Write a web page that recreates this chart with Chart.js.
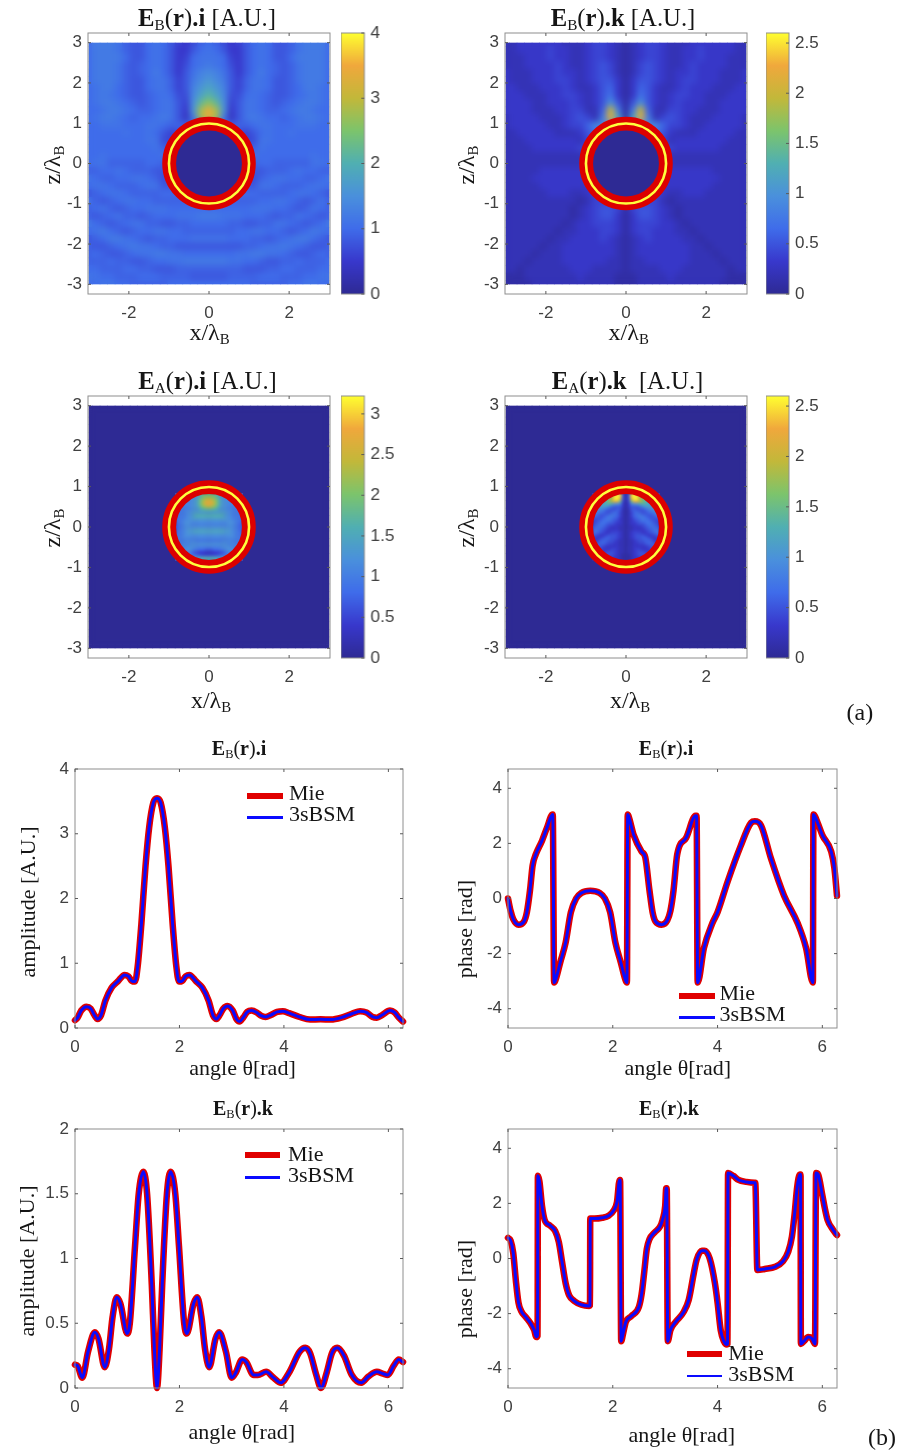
<!DOCTYPE html>
<html>
<head>
<meta charset="utf-8">
<title>Field maps and cuts</title>
<script src="https://cdn.jsdelivr.net/npm/chart.js@4"></script>
<style>
html, body { margin: 0; padding: 0; background: #fff; }
#fig { position: relative; width: 903px; height: 1454px; overflow: hidden; filter: blur(0.45px); }
#fig canvas { position: absolute; }
.txt { position: absolute; white-space: pre; font-family: "Liberation Serif", serif; color: #151515; line-height: 1; }
.txt sub { font-size: 0.62em; vertical-align: -0.28em; line-height: 0; }
.swatch { position: absolute; }
</style>
</head>
<body>
<div id="fig"></div>
<script>
// colour map, bottom to top of the colour bars
const parula = ['#2e2a94', '#3838cc', '#3f6cea', '#4a90dc', '#50afb2', '#7cc46c', '#c2b83a', '#f0a83c', '#ffff30'];

// tick labels
const heatXTicks = [-2, 0, 2];
const heatYTicks = [-3, -2, -1, 0, 1, 2, 3];
const angleTicks = [0, 2, 4, 6];
const phaseTicks = [-4, -2, 0, 2, 4];
const ampITicks = [0, 1, 2, 3, 4];
const ampKTicks = [0, 0.5, 1, 1.5, 2];
const barTicksBi = [0, 1, 2, 3, 4];
const barTicksBk = [0, 0.5, 1, 1.5, 2, 2.5];
const barTicksAi = [0, 0.5, 1, 1.5, 2, 2.5, 3];
const barTicksAk = [0, 0.5, 1, 1.5, 2, 2.5];

// heat maps, one character per cell, 0-9a-z = tenths of A.U., top row is z = 3
const fieldBi = [
'acccb988aba86579a97568aba889bccca',
'acccb988aba8558aba8558aba889bccca',
'acccca88aba856abbba658aba88acccca',
'acccb989aba857abcba758aba989bccca',
'acccb989aca858bdedb858aca989bccca',
'acccb988abb968cegec869bba889bccca',
'abcca988abb968dgigd869bba889accba',
'abcba9889aba77eilie77aba9889abcba',
'abccba989abb86fmqmf68bba989abccba',
'aabccba99abb85gsysg58bba99abccbaa',
'abccba9aabcb84csysc48bcbaa9abccba',
'aabbbaaabba99999999999abbaaabbbaa',
'aaaaabaaba8677777777768abaabaaaaa',
'aaaaaaaabb7666666666667bbaaaaaaaa',
'aaaaaaaaab9999999999999baaaaaaaaa',
'aabaaaaaaabbbbbbbbbbbbbaaaaaaabaa',
'abb99999aa9999999999999aa99999bba',
'99aaba999888888888888888999abaa99',
'ba99aabba977777777777779abbaa99ab',
'abba999abb8888888888888bba999abba',
'89abba9999aaaaaaaaaaaaa9999abba98',
'b989abbaa99999999999999aabba989b9',
'9ab989aabbbaaaaaaaaaaabbbaa989ba9',
'989ab9989aaabbbcccbbbaaa9899ba989',
'ca989abb998899aaaaa998899bba989ac',
'abca989aabbaa9999999aabbaa989acba',
'89accba9899aaabbbbbaaa9989abcca98',
'9889abcbba9988888888899abbcba9889',
'9a9889abbccbbaaaaaaabbccbba9889a9',
'999a99889aabbccccccbbaa98899a999a',
'aa999aa9988899999999988899aa999aa',
'bbaa999aaa9999888889999aaa999aabb',
'aabbaa99999aaaaaaaaaaa99999aabbaa'
];
const fieldBk = [
'223333332223443212344322233333322',
'223333433223443212344322334333322',
'222333433223443212344322334333222',
'222333343223454212454322343333222',
'322233343323454212454323343332223',
'322233344323455313554323443332223',
'332223334322356313653223433322233',
'333222334432357313753234433222333',
'33332233343235a515a53234333223333',
'33332223344226k818k62244332223333',
'23333222345428mc1cm82454322233332',
'233333223446999999999644322333332',
'223333322235777777777532223333322',
'222333333324555555555423333333222',
'222233333344444444444443333332222',
'222222222222222222222222222222222',
'222222222222222222222222222222222',
'222223333333333333333333333322222',
'222233333333333333333333333332222',
'222223333333333333333333333322222',
'222222333223444444444322333222222',
'222222222212444444444212222222222',
'222222222123455414554321222222222',
'222222222123455313554321222222222',
'222222221233444313444332122222222',
'222222212233344313443332212222222',
'222222122333343212343333221222222',
'222221223333333212333333322122222',
'222212223333333212333333322212222',
'222122223333332212233333322221222',
'221222222333222212222333222222122',
'111222222232222111222232222222111',
'111122222222222111222222222221111'
];
// inside of the sphere, cells every 0.07, top row is z = 0.84
const innerAi = [
'bbbbbbbcegijjjigecbbbbbbb',
'bbbbbbbcehjkkkjhecbbbbbbb',
'bbbbbbcdfilnonlifdcbbbbbb',
'bbbbbbcdfjnqrqnjfdcbbbbbb',
'bbbbbbcdfjnqrqnjfdcbbbbbb',
'aaaaabcdehkmnmkhedcbaaaaa',
'aaaabbcddfghhhgfddcbbaaaa',
'99aabcdeeeeeeeeeeedcbaa99',
'99aabcdfgggggggggfdcbaa99',
'99aabcdeeeeeeeeeeedcbaa99',
'89abcccccccccccccccccba98',
'88abccbbbbbbbbbbbbbccba88',
'88abcccccccccccccccccba88',
'88abcddeeeeeeeeeeeddcba88',
'89abcddeeeeeeeeeeeddcba98',
'99abcccccccccccccccccba99',
'9aabbbbbbbbbbbbbbbbbbbaa9',
'aaaabbbbaaaaaaaaabbbbaaaa',
'aaabbbcccccccccccccbbbaaa',
'aabbbcccbbbbbbbbbcccbbbaa',
'aabbccba988777889abccbbaa',
'aabcca8654433344568accbaa',
'aabccb9876555556789bccbaa',
'aabcdddeefgggggfeedddcbaa',
'aabcddefgggggggggfeddcbaa'
];
const innerAk = [
'555678afmro414ormfa876555',
'55678adiptp515ptpida87655',
'56789cgkqtn515ntqkgc98765',
'6789behjmmf414fmmjheb9876',
'789acddca9831389acddca987',
'89abba8655531355568abba98',
'9aa9865556521256555689aa9',
'9987655676421246765567899',
'8765567876421246787655678',
'6555678765321235678765556',
'4456777654321234567776544',
'4567765543321233455677654',
'5677654333221223334567765',
'7776543333221223333456777',
'8765433444321234443345678',
'6543345554321234555433456',
'4334566554321234556654334',
'3346665543221223455666433',
'4466654433221223344566644',
'5565433333221223333345655',
'5554333443221223443334555',
'4443345543221223455433444',
'3333455543211123455543333',
'3333444433211123344443333',
'2223333332211122333333222'
];
const outsideLevel = '0'; // region A outside the sphere is flat

// amplitude and phase along the circle
const thetaAmpI = [0,.05,.12,.22,.3,.37,.43,.5,.58,.7,.82,.95,1.02,1.1,1.15,1.2,1.27,1.35,1.42,1.5,1.57,1.64,1.72,1.79,1.87,1.94,1.99,2.04,2.12,2.19,2.32,2.44,2.56,2.64,2.71,2.77,2.84,2.92,3.02,3.09,3.15,3.22,3.3,3.38,3.48,3.56,3.65,3.75,3.87,3.98,4.1,4.3,4.5,4.7,4.9,5.1,5.3,5.46,5.58,5.7,5.78,5.88,6.03,6.12,6.2,6.28];
const ampI = [.12,.16,.27,.33,.3,.2,.14,.2,.42,.62,.72,.82,.8,.72,.72,.95,1.6,2.5,3.1,3.48,3.55,3.48,3.1,2.5,1.6,.95,.72,.72,.8,.82,.72,.62,.42,.2,.14,.2,.3,.34,.27,.14,.1,.16,.25,.27,.24,.19,.17,.2,.25,.26,.23,.17,.13,.135,.13,.16,.22,.26,.24,.17,.16,.2,.27,.24,.16,.1];

const thetaPhaseI = [0,.05,.1,.2,.3,.36,.42,.47,.53,.65,.75,.85,.855,.88,.9,1,1.1,1.2,1.3,1.4,1.57,1.75,1.85,1.95,2.05,2.15,2.25,2.27,2.285,2.3,2.4,2.55,2.62,2.7,2.76,2.82,2.93,3.04,3.1,3.16,3.23,3.4,3.58,3.6,3.62,3.74,3.9,4,4.19,4.44,4.64,4.71,4.83,5.02,5.27,5.53,5.69,5.82,5.83,5.91,6,6.17,6.23,6.28];
const phaseI = [0,-.45,-.75,-.95,-.85,-.5,.3,1.2,1.6,2.1,2.6,3.05,3.05,-3.05,-3,-2.3,-1.6,-.5,0,.2,.28,.2,0,-.5,-1.6,-2.3,-3,-3.05,3.05,3,2.3,1.7,1.5,.3,-.5,-.85,-.95,-.8,-.45,.3,1.6,2.2,3,3,-3.05,-1.8,-.9,-.5,.6,1.9,2.75,2.8,2.65,1.45,.1,-.9,-1.8,-3.05,3.05,2.75,2.3,1.7,1.1,.1];

const thetaAmpK = [0,.05,.14,.25,.38,.45,.57,.65,.72,.8,.87,1,1.05,1.15,1.22,1.31,1.38,1.47,1.52,1.57,1.62,1.67,1.76,1.83,1.92,1.99,2.09,2.14,2.27,2.34,2.42,2.49,2.57,2.69,2.76,2.89,3,3.08,3.2,3.28,3.42,3.5,3.66,3.8,3.94,4.1,4.3,4.41,4.5,4.62,4.71,4.82,4.92,5.02,5.15,5.3,5.48,5.62,5.78,5.9,5.99,6.1,6.2,6.28];
const ampK = [.18,.17,.08,.28,.43,.38,.16,.3,.55,.7,.65,.42,.5,1.1,1.5,1.67,1.5,.8,.3,0,.3,.8,1.5,1.67,1.5,1.1,.5,.42,.65,.7,.55,.3,.16,.38,.43,.28,.08,.12,.22,.2,.1,.1,.125,.08,.04,.12,.28,.31,.27,.1,0,.12,.27,.31,.25,.1,.04,.09,.125,.11,.1,.17,.22,.2];

const thetaPhaseK = [0,.05,.1,.15,.2,.25,.35,.43,.5,.54,.565,.57,.6,.65,.7,.8,.9,.97,1.03,1.1,1.17,1.27,1.4,1.55,1.565,1.57,1.65,1.8,1.92,2.02,2.08,2.13,2.14,2.16,2.2,2.25,2.35,2.5,2.55,2.6,2.65,2.7,2.8,2.9,2.95,3,3.02,3.03,3.05,3.1,3.2,3.35,3.45,3.55,3.6,3.7,3.75,3.85,3.95,4,4.06,4.12,4.18,4.19,4.2,4.3,4.4,4.55,4.71,4.72,4.76,4.9,5.1,5.25,5.35,5.42,5.47,5.52,5.57,5.585,5.59,5.65,5.73,5.8,5.86,5.88,5.92,6,6.05,6.1,6.2,6.28];
const phaseK = [.75,.65,.2,-.8,-1.6,-1.9,-2.15,-2.35,-2.6,-2.85,-2.8,3,2.8,1.9,1.4,1.2,1,.6,-.1,-.9,-1.35,-1.55,-1.68,-1.72,-1.7,1.45,1.45,1.48,1.55,1.75,2.05,2.85,2.85,-3,-2.7,-2.3,-2.1,-1.75,-1.3,-.5,.35,.7,.95,1.15,1.4,1.9,2.55,2.55,-3,-2.6,-2.3,-1.95,-1.5,-.5,-.05,.28,.28,0,-.9,-1.6,-2.6,-3,-3.12,-3.1,3.1,3,2.85,2.78,2.75,2.75,-.42,-.38,-.3,-.1,.25,.8,1.6,2.6,3.05,3.05,-3.1,-3,-2.85,-2.9,-3.1,3.1,3.05,2.3,1.8,1.4,1.05,.85];

const fig = document.getElementById('fig');
const sansTick = { family: '"Liberation Sans", sans-serif', size: 17 };
const tickColor = '#404040';

function parulaAt(t) {
    t = Math.max(0, Math.min(1, t)) * (parula.length - 1);
    const i = Math.min(Math.floor(t), parula.length - 2);
    const a = parula[i], b = parula[i + 1], f = t - i;
    let out = 'rgb(';
    for (let k = 0; k < 3; k++) {
        const p = parseInt(a.substr(1 + k * 2, 2), 16), q = parseInt(b.substr(1 + k * 2, 2), 16);
        out += Math.round(p + (q - p) * f) + (k < 2 ? ',' : ')');
    }
    return out;
}

// box and short inward ticks, matlab style
const framePlugin = {
    id: 'frame',
    afterDraw(chart) {
        const { ctx, chartArea: a, scales } = chart;
        const oneSide = chart.options.plugins.frame && chart.options.plugins.frame.oneSide;
        ctx.save();
        ctx.strokeStyle = '#8e8e8e';
        ctx.lineWidth = 1;
        ctx.strokeRect(a.left, a.top, a.right - a.left, a.bottom - a.top);
        ctx.strokeStyle = '#5a5a5a';
        ctx.beginPath();
        if (!oneSide) {
            scales.x.ticks.forEach(t => {
                const p = scales.x.getPixelForValue(t.value);
                ctx.moveTo(p, a.bottom); ctx.lineTo(p, a.bottom - 3);
                ctx.moveTo(p, a.top); ctx.lineTo(p, a.top + 3);
            });
        }
        scales.y.ticks.forEach(t => {
            const p = scales.y.getPixelForValue(t.value);
            ctx.moveTo(a.right, p); ctx.lineTo(a.right - 3, p);
            if (!oneSide) { ctx.moveTo(a.left, p); ctx.lineTo(a.left + 3, p); }
        });
        ctx.stroke();
        ctx.restore();
    }
};

// cells are clipped to the computed window and softened after drawing
const cellPlugin = {
    id: 'cells',
    beforeDatasetDraw(chart, args) {
        const d = chart.data.datasets[args.index];
        if (!d.cellLimit) return;
        chart.ctx.save();
        clipLimit(chart, d.cellLimit);
    },
    afterDatasetDraw(chart, args) {
        const d = chart.data.datasets[args.index];
        if (!d.cellLimit) return;
        const ctx = chart.ctx;
        ctx.restore();
        ctx.save();
        clipLimit(chart, d.cellLimit);
        ctx.filter = 'blur(' + d.cellSoft + 'px)';
        ctx.drawImage(chart.canvas, 0, 0);
        ctx.restore();
    }
};

function clipLimit(chart, lim) {
    const x = chart.scales.x, y = chart.scales.y;
    const l = x.getPixelForValue(-lim), r = x.getPixelForValue(lim);
    const t = y.getPixelForValue(lim), b = y.getPixelForValue(-lim);
    chart.ctx.beginPath();
    chart.ctx.rect(l, t, r - l, b - t);
    chart.ctx.clip();
}

function xUnits(chart, v) {
    return chart.scales.x.getPixelForValue(v) - chart.scales.x.getPixelForValue(0);
}

function cellData(rows, first, step, limit, order, soft) {
    const pts = [], colors = [];
    rows.forEach((row, r) => {
        for (let c = 0; c < row.length; c++) {
            const level = parseInt(row[c], 36) / 10;
            pts.push({ x: first + c * step, y: -first - r * step });
            colors.push(parulaAt(level / limit));
        }
    });
    return {
        data: pts,
        order: order,
        cellLimit: -first,
        cellSoft: soft,
        pointStyle: 'rect',
        pointBorderWidth: 0,
        pointBackgroundColor: colors,
        pointRadius: c => xUnits(c.chart, step) * 0.78
    };
}

function addCanvas(left, top, w, h) {
    const cv = document.createElement('canvas');
    cv.width = w; cv.height = h;
    cv.style.left = left + 'px';
    cv.style.top = top + 'px';
    cv.style.width = w + 'px';
    cv.style.height = h + 'px';
    fig.appendChild(cv);
    return cv;
}

function addText(html, x, base, size, center) {
    const el = document.createElement('div');
    el.className = 'txt';
    el.innerHTML = html;
    el.style.fontSize = size + 'px';
    el.style.left = x + 'px';
    el.style.top = (base - 0.84 * size) + 'px';
    if (center) el.style.transform = 'translateX(-50%)';
    fig.appendChild(el);
}

function addTurned(html, cx, cy, size) {
    const el = document.createElement('div');
    el.className = 'txt';
    el.innerHTML = html;
    el.style.fontSize = size + 'px';
    el.style.left = cx + 'px';
    el.style.top = cy + 'px';
    el.style.transform = 'translate(-50%,-50%) rotate(-90deg)';
    fig.appendChild(el);
}

function fixedTicks(list) {
    return s => { s.ticks = list.map(v => ({ value: v })); };
}

// chart area has to stay where the box is, so the axes get fixed sizes
function fitY(width) {
    return s => { s.width = width; s.paddingTop = 0; s.paddingBottom = 0; };
}
function fitX(height) {
    return s => { s.height = height; s.paddingLeft = 0; s.paddingRight = 0; };
}

function heatPanel(box, field, inner, limit, barLeft, barTicks) {
    const L = 60, T = 10, R = 14, B = 34;
    const w = box.r - box.l, h = box.b - box.t;
    const sets = [
        { data: [{ x: 0, y: 0 }], order: 1, pointBackgroundColor: 'transparent', pointBorderColor: '#ffff3c',
          pointBorderWidth: c => xUnits(c.chart, 0.065), pointRadius: c => xUnits(c.chart, 1) },
        { data: [{ x: 0, y: 0 }], order: 2, pointBackgroundColor: 'transparent', pointBorderColor: '#dc0000',
          pointBorderWidth: c => xUnits(c.chart, 0.345), pointRadius: c => xUnits(c.chart, 0.995) }
    ];
    if (inner) {
        sets.push(cellData(inner, -0.84, 0.07, limit, 4, 1.6));
    } else {
        sets.push({ data: [{ x: 0, y: 0 }], order: 3, pointBackgroundColor: parula[0], pointBorderWidth: 0,
          pointRadius: c => xUnits(c.chart, 0.86) });
    }
    sets.push(cellData(field, -3, 0.1875, limit, 5, 3));
    new Chart(addCanvas(box.l - L, box.t - T, w + L + R, h + T + B), {
        type: 'scatter',
        data: { datasets: sets },
        plugins: [cellPlugin, framePlugin],
        options: {
            responsive: false,
            animation: false,
            events: [],
            devicePixelRatio: 1,
            layout: { padding: { top: T, right: R } },
            plugins: { legend: { display: false }, tooltip: { enabled: false } },
            scales: {
                x: {
                    type: 'linear', min: -3.02, max: 3.02,
                    grid: { display: false, drawTicks: false }, border: { display: false },
                    afterBuildTicks: fixedTicks(heatXTicks),
                    afterFit: fitX(B),
                    ticks: { font: sansTick, color: tickColor, padding: 9, maxRotation: 0, autoSkip: false, callback: v => String(v) }
                },
                y: {
                    type: 'linear', min: -3.24, max: 3.24,
                    grid: { display: false, drawTicks: false }, border: { display: false },
                    afterBuildTicks: fixedTicks(heatYTicks),
                    afterFit: fitY(L),
                    ticks: { font: sansTick, color: tickColor, padding: 6, autoSkip: false, callback: v => String(v) }
                }
            }
        }
    });

    // colour bar
    const barW = 23.5, side = 48;
    new Chart(addCanvas(barLeft, box.t - T, barW + side, h + T + T), {
        type: 'bar',
        data: {
            labels: [''],
            datasets: [{
                data: [[0, limit]],
                barPercentage: 1,
                categoryPercentage: 1,
                backgroundColor(c) {
                    const a = c.chart.chartArea;
                    if (!a) return parula[0];
                    const g = c.chart.ctx.createLinearGradient(0, a.bottom, 0, a.top);
                    parula.forEach((col, i) => g.addColorStop(i / (parula.length - 1), col));
                    return g;
                }
            }]
        },
        plugins: [framePlugin],
        options: {
            responsive: false,
            animation: false,
            events: [],
            devicePixelRatio: 1,
            layout: { padding: { top: T, bottom: T } },
            plugins: { legend: { display: false }, tooltip: { enabled: false }, frame: { oneSide: true } },
            scales: {
                x: { display: false },
                y: {
                    position: 'right', min: 0, max: limit,
                    grid: { display: false, drawTicks: false }, border: { display: false },
                    afterBuildTicks: fixedTicks(barTicks),
                    afterFit: fitY(side),
                    ticks: { font: sansTick, color: tickColor, padding: 6, autoSkip: false, callback: v => String(v) }
                }
            }
        }
    });
}

function linePanel(box, theta, values, yMin, yMax, yTicks) {
    const L = 75, T = 12, R = 16, B = 40;
    const pts = theta.map((t, i) => ({ x: t, y: values[i] }));
    new Chart(addCanvas(box.l - L, box.t - T, box.r - box.l + L + R, box.b - box.t + T + B), {
        type: 'line',
        data: {
            datasets: [
                { label: 'Mie', data: pts, order: 2, borderColor: '#e00000', borderWidth: 6.5, pointRadius: 0,
                  cubicInterpolationMode: 'monotone', borderJoinStyle: 'round', borderCapStyle: 'round', clip: false },
                { label: '3sBSM', data: pts, order: 1, borderColor: '#0a0aff', borderWidth: 3, pointRadius: 0,
                  cubicInterpolationMode: 'monotone', borderJoinStyle: 'round', borderCapStyle: 'round', clip: false }
            ]
        },
        plugins: [framePlugin],
        options: {
            responsive: false,
            animation: false,
            events: [],
            devicePixelRatio: 1,
            layout: { padding: { top: T, right: R } },
            plugins: { legend: { display: false }, tooltip: { enabled: false } },
            scales: {
                x: {
                    type: 'linear', min: 0, max: 6.28,
                    grid: { display: false, drawTicks: false }, border: { display: false },
                    afterBuildTicks: fixedTicks(angleTicks),
                    afterFit: fitX(B),
                    ticks: { font: sansTick, color: tickColor, padding: 9, maxRotation: 0, autoSkip: false, callback: v => String(v) }
                },
                y: {
                    type: 'linear', min: yMin, max: yMax,
                    grid: { display: false, drawTicks: false }, border: { display: false },
                    afterBuildTicks: fixedTicks(yTicks),
                    afterFit: fitY(L),
                    ticks: { font: sansTick, color: tickColor, padding: 6, autoSkip: false, callback: v => String(v) }
                }
            }
        }
    });
}

function legendBlock(x0, x1, yMie, yBsm, textX, baseMie, baseBsm) {
    [[yMie, 6, '#e00000'], [yBsm, 2.8, '#0a0aff']].forEach(s => {
        const el = document.createElement('div');
        el.className = 'swatch';
        el.style.cssText = 'left:' + x0 + 'px;width:' + (x1 - x0) + 'px;top:' + (s[0] - s[1] / 2) + 'px;height:' + s[1] + 'px;background:' + s[2];
        fig.appendChild(el);
    });
    addText('Mie', textX, baseMie, 22);
    addText('3sBSM', textX, baseBsm, 22);
}

const flatField = Array(33).fill(outsideLevel.repeat(33));

heatPanel({ l: 88, r: 330, t: 33, b: 294 }, fieldBi, null, 4, 341, barTicksBi);
heatPanel({ l: 504.5, r: 746.5, t: 33, b: 294 }, fieldBk, null, 2.6, 765.5, barTicksBk);
heatPanel({ l: 88, r: 330, t: 395.5, b: 657.5 }, flatField, innerAi, 3.22, 341, barTicksAi);
heatPanel({ l: 504.5, r: 746.5, t: 395.5, b: 657.5 }, flatField, innerAk, 2.6, 765.5, barTicksAk);

linePanel({ l: 75, r: 403, t: 768.5, b: 1027.5 }, thetaAmpI, ampI, 0, 4, ampITicks);
linePanel({ l: 507.5, r: 836.5, t: 768.5, b: 1027.5 }, thetaPhaseI, phaseI, -4.7, 4.7, phaseTicks);
linePanel({ l: 75, r: 403, t: 1128.5, b: 1387.5 }, thetaAmpK, ampK, 0, 2, ampKTicks);
linePanel({ l: 507.5, r: 836.5, t: 1128.5, b: 1387.5 }, thetaPhaseK, phaseK, -4.7, 4.7, phaseTicks);

// titles and labels that mix bold, plain and subscript runs
addText('<b>E</b><sub>B</sub>(<b>r</b>)<b>.i</b> [A.U.]', 207, 27, 24.7, true);
addText('<b>E</b><sub>B</sub>(<b>r</b>)<b>.k</b> [A.U.]', 623, 27, 24.7, true);
addText('<b>E</b><sub>A</sub>(<b>r</b>)<b>.i</b> [A.U.]', 207.5, 390, 24.7, true);
addText('<b>E</b><sub>A</sub>(<b>r</b>)<b>.k</b>  [A.U.]', 627.5, 390, 24.7, true);
addText('<b>E</b><sub>B</sub>(<b>r</b>)<b>.i</b>', 239, 755, 20, true);
addText('<b>E</b><sub>B</sub>(<b>r</b>)<b>.i</b>', 666, 755, 20, true);
addText('<b>E</b><sub>B</sub>(<b>r</b>)<b>.k</b>', 243, 1115, 20, true);
addText('<b>E</b><sub>B</sub>(<b>r</b>)<b>.k</b>', 669, 1115, 20, true);

[[209.5, 340], [628.7, 340], [211, 708], [630, 708]].forEach(p => addText('x/λ<sub>B</sub>', p[0], p[1], 24, true));
[[52, 165], [466, 165], [52, 528], [466, 528]].forEach(p => addTurned('z/λ<sub>B</sub>', p[0], p[1], 24));

[[242.5, 1075.7], [677.8, 1075], [241.8, 1439], [681.8, 1442.7]].forEach(p => addText('angle θ[rad]', p[0], p[1], 22, true));
addTurned('amplitude [A.U.]', 28, 901.7, 22);
addTurned('phase [rad]', 465, 929, 22);
addTurned('amplitude [A.U.]', 27, 1260.7, 22);
addTurned('phase [rad]', 465, 1289, 22);

addText('(a)', 846.5, 720, 24);
addText('(b)', 868, 1445, 24);

legendBlock(247, 283, 795.7, 817.7, 289, 800, 821);
legendBlock(679, 714.5, 995.7, 1017.7, 719.5, 1000, 1021.7);
legendBlock(244.5, 280, 1155, 1177.7, 288, 1161, 1182);
legendBlock(686.7, 722.3, 1354.3, 1376, 728.3, 1360, 1381);
</script>
</body>
</html>
